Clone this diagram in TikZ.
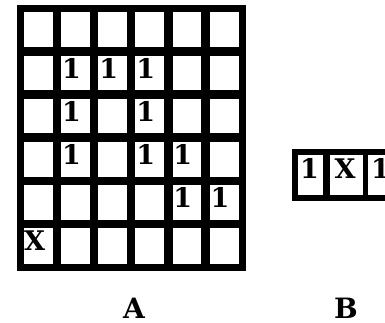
\documentclass[tikz,border=0pt]{standalone}
\usepackage{fontspec}
\newfontfamily\cellfont{DejaVu Serif}[BoldFont={DejaVu Serif Bold}]
\tikzset{
  frame/.style={line width=7pt},
  cellnum/.style={inner sep=0pt, font=\cellfont\fontsize{27}{27}\selectfont\bfseries},
  biglabel/.style={inner sep=0pt, font=\cellfont\fontsize{28}{28}\selectfont\bfseries}
}
\begin{document}
\begin{tikzpicture}[x=1pt, y=-1pt]
\useasboundingbox (0,0) rectangle (385,322);
\clip (0,0) rectangle (385,322);
% grid A
\foreach \i in {1,...,5} {
  \draw[line width=8.5pt] ({20+37.08*\i},8.5) -- ({20+37.08*\i},267);
  \draw[line width=8.5pt] (20,{8.5+43.08*\i}) -- (242.5,{8.5+43.08*\i});
}
\draw[frame] (20,8.5) rectangle (242.5,267);
% entries of A
\foreach \c/\r/\t [count=\k] in {2/2/1,3/2/1,4/2/1,2/3/1,4/3/1,2/4/1,4/4/1,5/4/1,5/5/1,6/5/1,1/6/X} {
  \node[cellnum] (a\k) at ({20+37.08*(\c-0.5)-4},{8.5+43.08*(\r-0.5)-4.5}) {\t};
}
% strip B
\draw[line width=6pt] (295,152) rectangle (420,198);
\draw[line width=7pt] (326.5,152) -- (326.5,198);
\draw[line width=5.5pt] (365.5,152) -- (365.5,198);
\node[cellnum] (b1) at (309.5,168) {1};
\node[cellnum] (b2) at (345,168.5) {X};
\node[cellnum] (b3) at (380.5,168) {1};
% labels
\node[biglabel] (labA) at (134,308) {A};
\node[biglabel] (labB) at (346,308.5) {B};
\end{tikzpicture}
\end{document}
